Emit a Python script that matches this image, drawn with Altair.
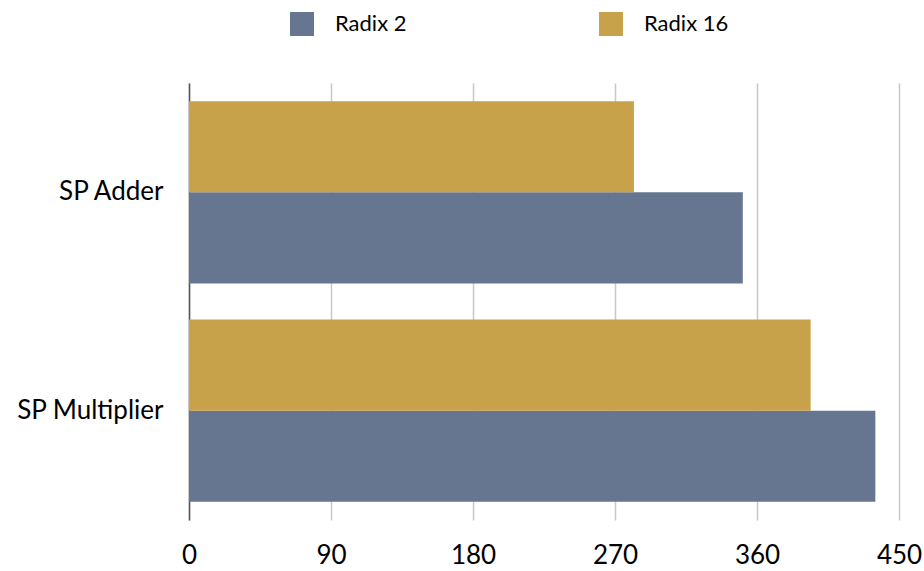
import altair as alt
import pandas as pd

# Latency of single-precision units, by radix
categories = ["SP Adder", "SP Multiplier"]
series = ["Radix 2", "Radix 16"]
radix2_values = [351, 435]
radix16_values = [282, 394]
x_ticks = [0, 90, 180, 270, 360, 450]

colors = ["#667691", "#C8A14B"]
font = "Lato"

rows = []
for i, cat in enumerate(categories):
    rows.append({"category": cat, "series": "Radix 2", "value": radix2_values[i]})
    rows.append({"category": cat, "series": "Radix 16", "value": radix16_values[i]})
df = pd.DataFrame(rows)

chart = (
    alt.Chart(df)
    .mark_bar()
    .encode(
        x=alt.X(
            "value:Q",
            scale=alt.Scale(domain=[0, 450], nice=False),
            axis=alt.Axis(
                values=x_ticks,
                title=None,
                grid=True,
                gridColor="#c8c8c8",
                gridWidth=1.5,
                domain=False,
                ticks=False,
                labelFlush=False,
                labelFontSize=26,
                labelFont=font,
                labelColor="#000000",
                labelPadding=22,
            ),
        ),
        y=alt.Y(
            "category:N",
            sort=categories,
            scale=alt.Scale(paddingInner=0.165, paddingOuter=0.083),
            axis=alt.Axis(
                title=None,
                ticks=False,
                grid=False,
                domainColor="#555555",
                domainWidth=1.5,
                labelFontSize=26,
                labelFont=font,
                labelColor="#000000",
                labelPadding=26,
            ),
        ),
        yOffset=alt.YOffset(
            "series:N",
            sort=["Radix 16", "Radix 2"],
            scale=alt.Scale(paddingInner=0, paddingOuter=0),
        ),
        color=alt.Color(
            "series:N",
            scale=alt.Scale(domain=series, range=colors),
            legend=alt.Legend(
                title=None,
                orient="none",
                direction="horizontal",
                columns=2,
                legendX=101,
                legendY=-71,
                symbolType="square",
                symbolSize=576,
                symbolStrokeWidth=0,
                symbolOpacity=1,
                labelFontSize=22,
                labelFont=font,
                labelColor="#000000",
                labelOffset=21,
                columnPadding=192,
            ),
        ),
    )
    .properties(
        width=710,
        height=437,
        view=alt.ViewBackground(stroke="transparent", strokeWidth=0, strokeOpacity=0),
        autosize=alt.AutoSizeParams(type="none"),
        padding={"left": 189, "top": 83, "right": 25, "bottom": 51},
    )
    .configure_view(strokeWidth=0, stroke="transparent", strokeOpacity=0)
    .configure(background="#ffffff")
)

chart.save("out.html", embed_options={"renderer": "svg", "actions": False})
